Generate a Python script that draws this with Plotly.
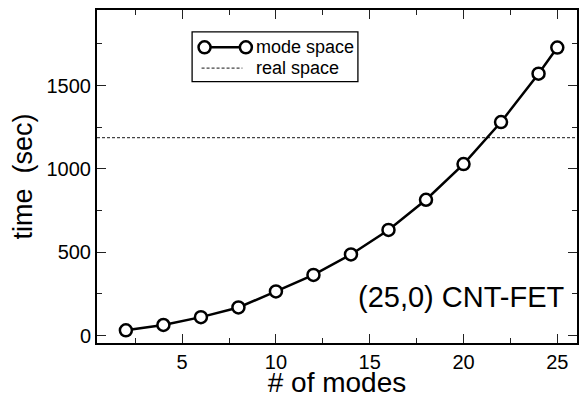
import plotly.graph_objects as go

# ---- data ----
modes = [2, 4, 6, 8, 10, 12, 14, 16, 18, 20, 22, 24, 25]
mode_space_time = [32, 64, 111, 169, 265, 364, 487, 634, 815, 1029, 1281, 1571, 1728]
real_space_time = 1188
x_tickvals = [5, 10, 15, 20, 25]
y_tickvals = [0, 500, 1000, 1500]
series_names = ["mode space", "real space"]
annotation_text = "(25,0) CNT-FET"

# ---- layout geometry ----
W, H = 580, 398
ML, MR, MT, MB = 97, 1, 10, 53
PW, PH = W - ML - MR, H - MT - MB
FONT = "Liberation Sans, Arial, Helvetica, sans-serif"


def px(xp):
    return (xp - ML) / PW


def py(yp):
    return (H - MB - yp) / PH


fig = go.Figure()

fig.add_trace(go.Scatter(
    x=modes, y=mode_space_time, mode="lines+markers", name=series_names[0],
    line=dict(color="black", width=2.5),
    marker=dict(symbol="circle", size=12, color="white",
                line=dict(color="black", width=2.5)),
    showlegend=False, cliponaxis=False,
))

shapes = []
# real space reference line (horizontal, data y)
shapes.append(dict(type="line", xref="paper", yref="y",
                   x0=0, x1=1, y0=real_space_time, y1=real_space_time,
                   line=dict(color="#444", width=1.2, dash="3px,2px"), layer="below"))
# custom legend box
shapes.append(dict(type="rect", xref="paper", yref="paper",
                   x0=px(192.5), x1=px(359), y0=py(82), y1=py(32),
                   line=dict(color="black", width=1.3), fillcolor="white", layer="above"))
# mode space sample: line + two circles
shapes.append(dict(type="line", xref="paper", yref="paper",
                   x0=px(205), x1=px(246.5), y0=py(47.5), y1=py(47.5),
                   line=dict(color="black", width=2.5), layer="above"))
for cx in (205, 246.5):
    shapes.append(dict(type="circle", xref="paper", yref="paper",
                       xsizemode="pixel", ysizemode="pixel",
                       xanchor=px(cx), yanchor=py(47.5),
                       x0=-6, x1=6, y0=-6, y1=6,
                       line=dict(color="black", width=2.5), fillcolor="white", layer="above"))
# real space sample
shapes.append(dict(type="line", xref="paper", yref="paper",
                   x0=px(202), x1=px(243), y0=py(68.5), y1=py(68.5),
                   line=dict(color="#444", width=1.2, dash="3px,2px"), layer="above"))

annotations = [
    dict(text=series_names[0], xref="paper", yref="paper", x=px(256), y=py(47.5),
         xanchor="left", yanchor="middle", showarrow=False,
         font=dict(family=FONT, size=18, color="black"), borderpad=0),
    dict(text=series_names[1], xref="paper", yref="paper", x=px(256), y=py(68.5),
         xanchor="left", yanchor="middle", showarrow=False,
         font=dict(family=FONT, size=18, color="black"), borderpad=0),
    dict(text=annotation_text, xref="paper", yref="paper", x=px(568), y=py(299),
         xanchor="right", yanchor="middle", showarrow=False,
         font=dict(family=FONT, size=29, color="black"), borderpad=0),
]

axis_common = dict(
    showline=True, linecolor="black", linewidth=2, mirror="ticks",
    ticks="inside", ticklen=9, tickwidth=1.3, tickcolor="#222",
    showgrid=False, zeroline=False,
    tickfont=dict(family=FONT, size=20, color="black"),
)

fig.update_layout(
    width=W, height=H,
    margin=dict(l=ML, r=MR, t=MT, b=MB),
    paper_bgcolor="white", plot_bgcolor="white",
    showlegend=False,
    xaxis=dict(range=[0.46, 26.05], tickvals=x_tickvals,
               minor=dict(dtick=2.5, tick0=0, ticks="inside", ticklen=5,
                          tickwidth=1.3, tickcolor="#222"),
               title=dict(text="# of modes", font=dict(family=FONT, size=28, color="black"),
                          standoff=4),
               **axis_common),
    yaxis=dict(range=[-44, 1953], tickvals=y_tickvals,
               minor=dict(dtick=250, tick0=0, ticks="inside", ticklen=5,
                          tickwidth=1.3, tickcolor="#222"),
               title=dict(text="time  (sec)", font=dict(family=FONT, size=27, color="black"),
                          standoff=6),
               **axis_common),
)
fig.layout.shapes = shapes
fig.layout.annotations = annotations

fig.write_html("out.html")
